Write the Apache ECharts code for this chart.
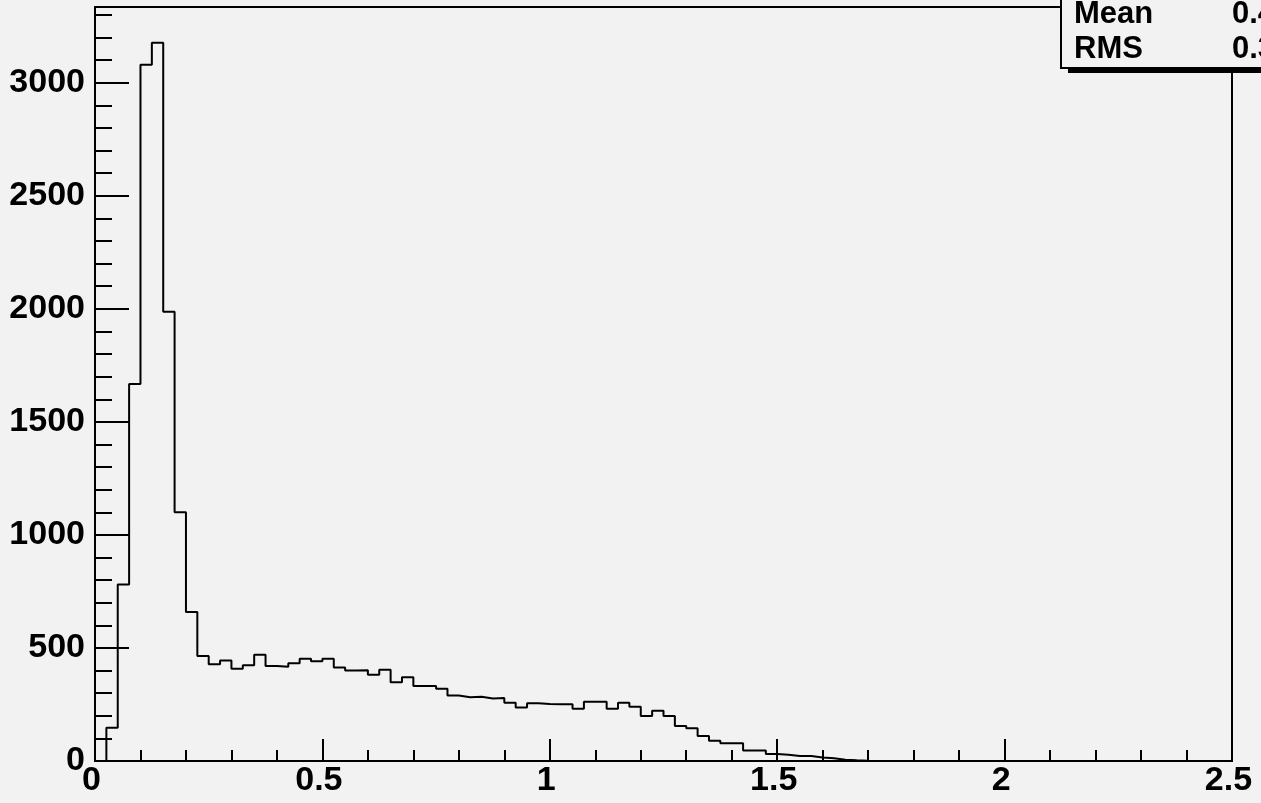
<!DOCTYPE html>
<html>
<head>
<meta charset="utf-8">
<script src="https://cdn.jsdelivr.net/npm/echarts@6/dist/echarts.min.js"></script>
<style>
  html, body { margin: 0; padding: 0; background: #f2f2f2; }
  #chart { width: 1261px; height: 803px; }
</style>
</head>
<body>
<div id="chart"></div>
<script>
// Histogram binning: 100 bins of width 0.025 on [0, 2.5]
const xMin = 0;
const xMax = 2.5;
const binWidth = 0.025;

// Entries per bin
const counts = [
  0, 147, 781, 1667, 3080, 3177, 1987, 1100, 659, 464,
  428, 444, 408, 423, 470, 420, 417, 432, 452, 441,
  452, 414, 400, 401, 382, 404, 348, 370, 332, 332,
  320, 290, 282, 284, 276, 279, 258, 237, 255, 252,
  251, 251, 231, 262, 262, 231, 258, 240, 199, 222,
  199, 155, 145, 111, 90, 78, 78, 46, 46, 31,
  28, 22, 22, 16, 12, 6, 3, 1, 0, 0,
  0, 0, 0, 0, 0, 0, 0, 0, 0, 0,
  0, 0, 0, 0, 0, 0, 0, 0, 0, 0,
  0, 0, 0, 0, 0, 0, 0, 0, 0, 0
];

// Axis settings
const yMax = 3335;
const yMajor = 500;
const yMinor = 100;
const xMajor = 0.5;
const statLabels = ['Mean', 'RMS'];

// Step outline points at the lower edge of every bin, closed at xMax
const steps = counts.map((c, i) => [xMin + i * binWidth, c]);
steps.push([xMax, counts[counts.length - 1]]);

// Summary statistics from bin centres
let sw = 0, sx = 0, sxx = 0;
counts.forEach((c, i) => {
  const xc = xMin + (i + 0.5) * binWidth;
  sw += c; sx += c * xc; sxx += c * xc * xc;
});
const mean = sx / sw;
const rms = Math.sqrt(sxx / sw - mean * mean);
const statValues = [mean.toFixed(4), rms.toFixed(4)];

const font = 'Liberation Sans, Arial, Helvetica, sans-serif';
const chart = echarts.init(document.getElementById('chart'), null, { renderer: 'canvas' });

// Stats box rows
const statText = [];
statLabels.forEach((lab, k) => {
  const y = [16, 51][k];
  statText.push({
    type: 'text', left: 1074, top: y - 17, z: 102,
    style: { text: lab, font: 'bold 31px ' + font, fill: '#000' }
  });
  statText.push({
    type: 'text', left: 1232, top: y - 17, z: 102,
    style: { text: statValues[k], font: 'bold 31px ' + font, fill: '#000' }
  });
});

chart.setOption({
  animation: false,
  backgroundColor: '#f2f2f2',
  grid: {
    left: 95, right: 29, top: 7, bottom: 42,
    show: true, borderColor: '#000', borderWidth: 2, backgroundColor: '#f2f2f2'
  },
  xAxis: {
    type: 'value', min: xMin, max: xMax, interval: xMajor,
    axisLine: { show: true, onZero: false, lineStyle: { color: '#000', width: 2 } },
    axisTick: { show: true, inside: true, length: 22, lineStyle: { color: '#000', width: 2 } },
    minorTick: { show: true, splitNumber: 5, length: 11, lineStyle: { color: '#000', width: 2 } },
    splitLine: { show: false },
    axisLabel: {
      margin: 3, color: '#000', fontFamily: font, fontWeight: 'bold', fontSize: 34,
      padding: [0, 7, 0, 0],
      formatter: v => String(Math.round(v * 10) / 10)
    }
  },
  yAxis: [
    {
      type: 'value', min: 0, max: yMax, interval: yMajor,
      axisLine: { show: true, lineStyle: { color: '#000', width: 2 } },
      axisTick: { show: true, inside: true, length: 34, lineStyle: { color: '#000', width: 2 } },
      splitLine: { show: false },
      axisLabel: {
        margin: 10, color: '#000', fontFamily: font, fontWeight: 'bold', fontSize: 34,
        padding: [8, 0, 0, 0], showMaxLabel: false,
        formatter: v => (v % yMajor === 0 ? String(v) : '')
      }
    },
    {
      type: 'value', min: 0, max: yMax, interval: yMinor, position: 'left',
      axisLine: { show: false },
      axisTick: { show: true, inside: true, length: 17, lineStyle: { color: '#000', width: 2 } },
      splitLine: { show: false },
      axisLabel: { show: false }
    }
  ],
  series: [{
    type: 'line',
    step: 'end',
    data: steps,
    showSymbol: false,
    symbol: 'none',
    lineStyle: { color: '#000', width: 2 },
    z: 3
  }],
  graphic: [
    { type: 'rect', z: 100, shape: { x: 1068, y: 68, width: 200, height: 5 }, style: { fill: '#000' } },
    { type: 'rect', z: 101, shape: { x: 1061, y: -60, width: 260, height: 128 },
      style: { fill: '#f2f2f2', stroke: '#000', lineWidth: 2 } }
  ].concat(statText)
});
</script>
</body>
</html>
